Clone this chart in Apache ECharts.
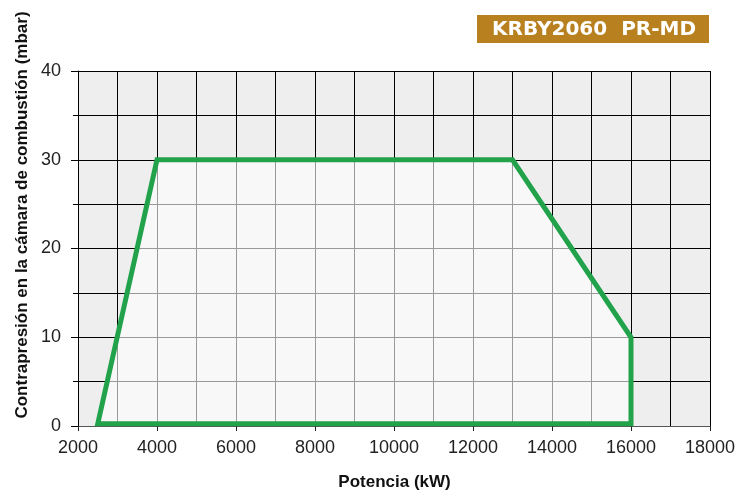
<!DOCTYPE html>
<html>
<head>
<meta charset="utf-8">
<script src="https://cdn.jsdelivr.net/npm/echarts@6/dist/echarts.min.js"></script>
<style>
html,body{margin:0;padding:0;background:#fff;}
#c{width:742px;height:497px;}
</style>
</head>
<body>
<div id="c"></div>
<script>
// Data
const title = 'KRBY2060  PR-MD';
const xName = 'Potencia (kW)';
const yName = 'Contrapresión en la cámara de combustión (mbar)';
const xTicks = [2000, 4000, 6000, 8000, 10000, 12000, 14000, 16000, 18000];
const yTicks = [0, 10, 20, 30, 40];
const rangeX = [2500, 4000, 13000, 16000, 16000];   // kW
const rangeY = [0.25, 30, 30, 10, 0.25];           // mbar

const chart = echarts.init(document.getElementById('c'));
const labelFont = 'Liberation Sans, Arial, sans-serif';

chart.setOption({
  animation: false,
  grid: {left: 78, right: 32, top: 71, bottom: 71, show: true, backgroundColor: '#eeeeee', borderWidth: 0},
  xAxis: {
    type: 'value', min: xTicks[0], max: xTicks[xTicks.length - 1], interval: 2000,
    axisLine: {show: true, lineStyle: {color: '#555', width: 1}},
    axisTick: {show: true, length: 5, lineStyle: {color: '#222'}},
    minorTick: {show: false, splitNumber: 2},
    splitLine: {show: true, lineStyle: {color: '#000', width: 1}},
    minorSplitLine: {show: true, lineStyle: {color: '#000', width: 1}},
    axisLabel: {color: '#222', fontSize: 18, fontFamily: labelFont, margin: 13, formatter: v => String(v)}
  },
  yAxis: {
    type: 'value', min: yTicks[0], max: yTicks[yTicks.length - 1], interval: 10,
    axisLine: {show: true, lineStyle: {color: '#000', width: 1}},
    axisTick: {show: true, length: 7, lineStyle: {color: '#000'}},
    minorTick: {show: true, splitNumber: 2, length: 5, lineStyle: {color: '#000'}},
    splitLine: {show: true, lineStyle: {color: '#000', width: 1}},
    minorSplitLine: {show: true, lineStyle: {color: '#000', width: 1}},
    axisLabel: {color: '#222', fontSize: 18, fontFamily: labelFont, margin: 17, formatter: v => String(v)}
  },
  series: [{
    type: 'custom',
    coordinateSystem: 'cartesian2d',
    data: [[rangeX[0], rangeY[0]]],
    renderItem: function (params, api) {
      const pts = rangeX.map((x, i) => api.coord([x, rangeY[i]]));
      return {
        type: 'polygon',
        shape: {points: pts},
        style: {fill: 'rgba(255,255,255,0.6)', stroke: '#22a34b', lineWidth: 5, lineJoin: 'miter'}
      };
    },
    z: 5
  }],
  graphic: [
    {type: 'rect', left: 477, top: 15, shape: {width: 232, height: 28}, style: {fill: '#b9801f'}},
    {type: 'text', x: 594, y: 29.5, style: {text: title, fill: '#fff', font: 'bold 20px "DejaVu Sans", sans-serif', align: 'center', verticalAlign: 'middle'}},
    {type: 'text', x: 394.5, y: 482, style: {text: xName, fill: '#111', font: 'bold 17px "Liberation Sans", Arial, sans-serif', align: 'center', verticalAlign: 'middle'}},
    {type: 'text', x: 22, y: 215, rotation: Math.PI / 2, style: {text: yName, fill: '#111', font: 'bold 17px "Liberation Sans", Arial, sans-serif', align: 'center', verticalAlign: 'middle'}}
  ]
});
</script>
</body>
</html>
